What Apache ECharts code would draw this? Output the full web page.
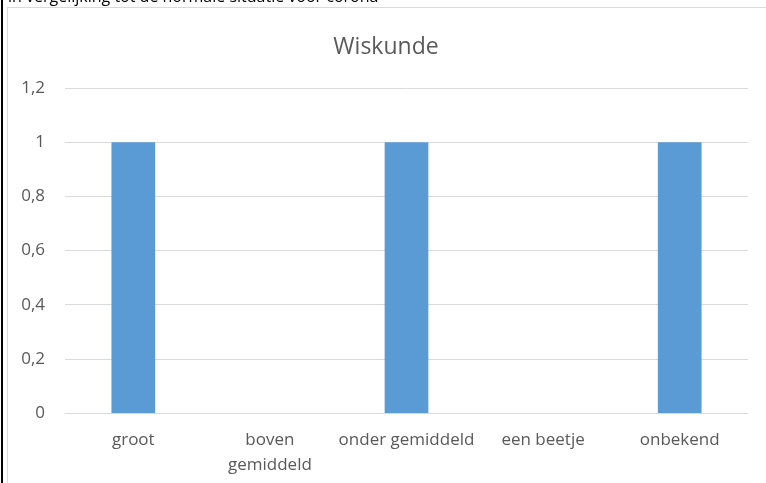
<!DOCTYPE html>
<html><head><meta charset="utf-8">
<script src="https://cdn.jsdelivr.net/npm/echarts@6/dist/echarts.min.js"></script>
<style>
html,body{margin:0;padding:0;background:#fff;overflow:hidden;}
#wrap{position:relative;width:766px;height:483px;}
#chart{position:absolute;left:0;top:0;width:766px;height:483px;}
#doc{position:absolute;left:8px;top:-15px;font-family:"Open Sans",sans-serif;font-size:16px;color:#000;white-space:nowrap;}
#bl{position:absolute;left:1px;top:0;width:2px;height:483px;background:#000;}
#fl{position:absolute;left:7px;top:7px;width:1px;height:476px;background:#d9d9d9;}
#ft{position:absolute;left:7px;top:7px;width:759px;height:1px;background:#d9d9d9;}
</style></head>
<body><div id="wrap">
<div id="chart"></div>
<div id="doc">in vergelijking tot de normale situatie voor corona</div>
<div id="bl"></div><div id="fl"></div><div id="ft"></div>
</div>
<script>
const chartTitle = "Wiskunde";
const categories = ["groot", "boven gemiddeld", "onder gemiddeld", "een beetje", "onbekend"];
const values = [1, 0, 1, 0, 1];
const yTicks = [0, 0.2, 0.4, 0.6, 0.8, 1, 1.2];

const chart = echarts.init(document.getElementById('chart'), null, {renderer:'canvas'});
const txt = '#595959';
chart.setOption({
  animation:false,
  title:{text:chartTitle,left:381,top:31,textAlign:'center',
    textStyle:{fontFamily:'Open Sans',fontSize:23,fontWeight:'normal',color:txt}},
  grid:{left:65,right:18,top:88,bottom:70},
  xAxis:{type:'category',data:categories,
    axisLine:{lineStyle:{color:'#d9d9d9',width:1}},
    axisTick:{show:false},
    axisLabel:{color:txt,fontFamily:'Open Sans',fontSize:17,margin:15,lineHeight:25,interval:0,
      formatter:v=>v==='boven gemiddeld'?'boven\ngemiddeld':v}},
  yAxis:{type:'value',min:yTicks[0],max:yTicks[yTicks.length-1],interval:0.2,
    axisLine:{show:false},axisTick:{show:false},
    splitLine:{lineStyle:{color:'#d9d9d9',width:1}},
    axisLabel:{color:txt,fontFamily:'Open Sans',fontSize:17,margin:20,
      formatter:v=>{const r=Math.round(v*10)/10;return String(r).replace('.',',');}}},
  series:[{type:'bar',data:values,barWidth:'32%',itemStyle:{color:'#5b9bd5'}}]
});
</script></body></html>
